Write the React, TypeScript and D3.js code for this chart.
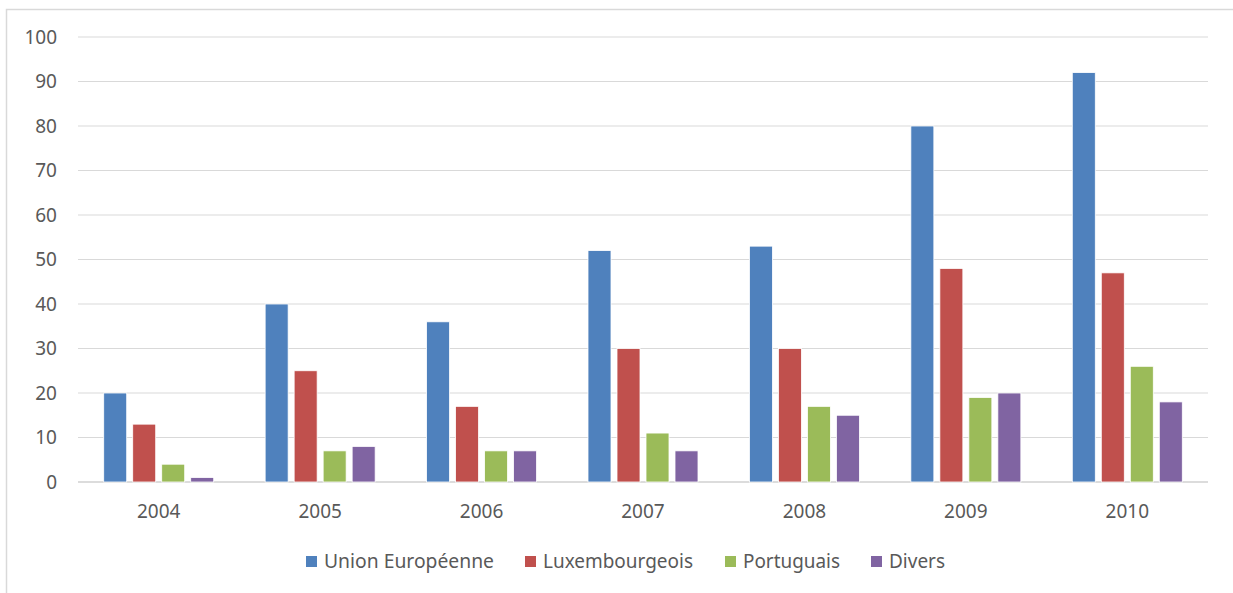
import React from "react";
import * as d3 from "d3";

const years = ["2004", "2005", "2006", "2007", "2008", "2009", "2010"];
const seriesNames = ["Union Européenne", "Luxembourgeois", "Portuguais", "Divers"];
const unionEuropeenne = [20, 40, 36, 52, 53, 80, 92];
const luxembourgeois = [13, 25, 17, 30, 30, 48, 47];
const portuguais = [4, 7, 7, 11, 17, 19, 26];
const divers = [1, 8, 7, 7, 15, 20, 18];
const colors = ["#4F81BD", "#C0504D", "#9BBB59", "#8064A2"];
const yTicks = [0, 10, 20, 30, 40, 50, 60, 70, 80, 90, 100];

const W = 1233;
const H = 593;
const FONT = "'Noto Sans', 'Open Sans', sans-serif";

// legend layout (swatch positions and text widths matching the reference)
const legendX = [306, 525, 725, 871];
const legendTextW = [170, 150, 97, 56];

export default function App() {
  const series = [unionEuropeenne, luxembourgeois, portuguais, divers];
  const x0 = d3.scaleBand().domain(years).range([78, 1208]).paddingInner(0).paddingOuter(0);
  const groupW = 4 * 23 + 3 * 6;
  const y = d3.scaleLinear().domain([0, 100]).range([482, 37]);

  return (
    <div style={{ position: "fixed", left: 0, top: 0, width: W, height: H, overflow: "hidden" }}>
      <svg width={W} height={H} style={{ display: "block", fontFamily: FONT }}>
        <rect x={0} y={0} width={W} height={H} fill="#fff" />
        <rect x={6.5} y={9.5} width={W + 10} height={H + 10} fill="none" stroke="#d9d9d9" strokeWidth={1.5} />
        {yTicks.map((t) => (
          <g key={t}>
            <line x1={78} x2={1208} y1={y(t)} y2={y(t)} stroke={t === 0 ? "#d0d0d0" : "#d9d9d9"} strokeWidth={t === 0 ? 1.5 : 1.2} />
            <text x={57} y={y(t)} dy="0.35em" textAnchor="end" fontSize={19} fill="#595959">
              {t}
            </text>
          </g>
        ))}
        {years.map((yr, i) => {
          const cx = (x0(yr) as number) + x0.bandwidth() / 2;
          const start = cx - groupW / 2;
          return (
            <g key={yr}>
              {series.map((s, k) => (
                <rect
                  key={k}
                  x={start + k * 29}
                  y={y(s[i])}
                  width={23}
                  height={y(0) - y(s[i])}
                  fill={colors[k]}
                  stroke="#fff"
                  strokeWidth={0.8}
                />
              ))}
              <text x={cx} y={511} dy="0.35em" textAnchor="middle" fontSize={19} fill="#595959">
                {yr}
              </text>
            </g>
          );
        })}
        {seriesNames.map((n, k) => (
          <g key={n}>
            <rect x={legendX[k]} y={556} width={11} height={11} fill={colors[k]} />
            <text
              x={legendX[k] + 18}
              y={561.5}
              dy="0.35em"
              fontSize={19}
              fill="#595959"
              textLength={legendTextW[k]}
              lengthAdjust="spacingAndGlyphs"
            >
              {n}
            </text>
          </g>
        ))}
      </svg>
    </div>
  );
}
